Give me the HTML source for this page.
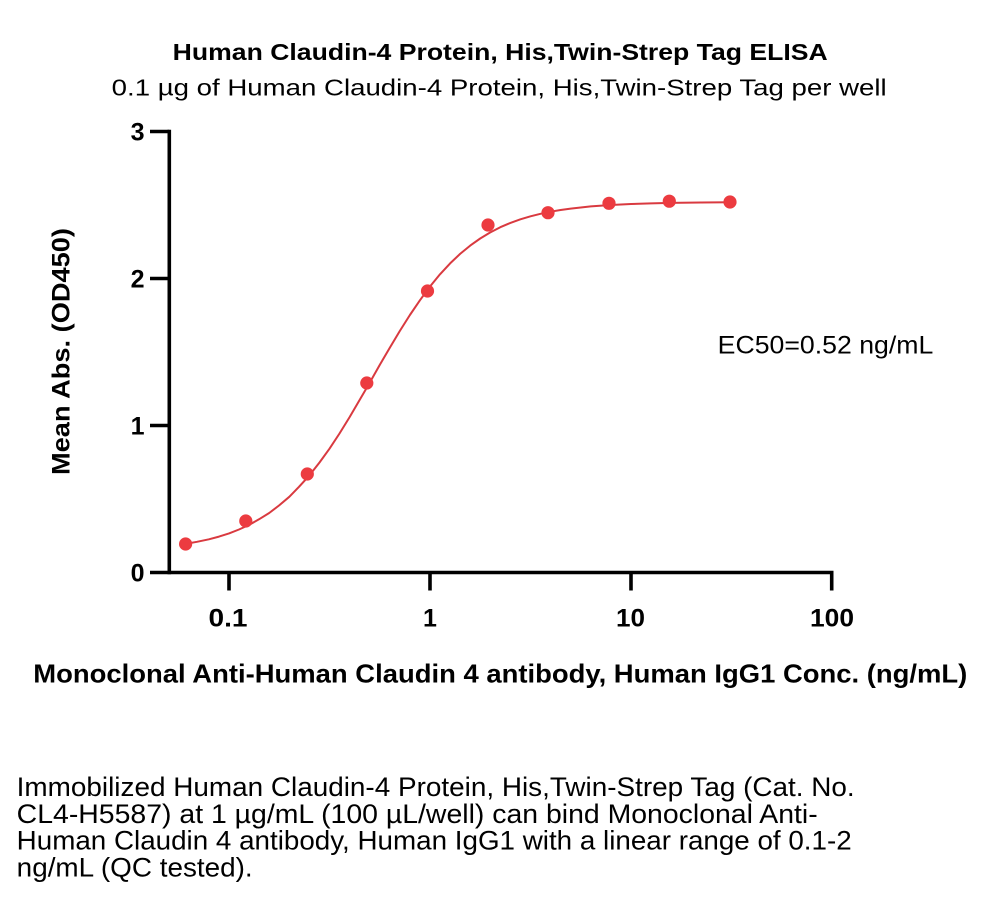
<!DOCTYPE html>
<html>
<head>
<meta charset="utf-8">
<style>
  html, body { margin:0; padding:0; background:#ffffff; }
  body { width:1000px; height:905px; overflow:hidden; }
  svg { display:block; }
  text { font-family: "Liberation Sans", "DejaVu Sans", sans-serif; fill:#000; }
  .b { font-weight:bold; }
</style>
</head>
<body>
<svg width="1000" height="905" viewBox="0 0 1000 905" xmlns="http://www.w3.org/2000/svg">
  <rect x="0" y="0" width="1000" height="905" fill="#ffffff"/>

  <!-- Titles -->
  <text class="b" x="172.7" y="60" font-size="23.5" textLength="655" lengthAdjust="spacingAndGlyphs">Human Claudin-4 Protein, His,Twin-Strep Tag ELISA</text>
  <text x="111.7" y="95.7" font-size="23" textLength="775" lengthAdjust="spacingAndGlyphs">0.1 µg of Human Claudin-4 Protein, His,Twin-Strep Tag per well</text>

  <!-- Axes -->
  <g stroke="#000" stroke-width="3.6" fill="none" stroke-linecap="butt">
    <line x1="169.3" y1="129.7" x2="169.3" y2="574.3"/>
    <line x1="150" y1="572.5" x2="833.5" y2="572.5"/>
    <!-- y ticks -->
    <line x1="150" y1="131.5" x2="169.3" y2="131.5"/>
    <line x1="150" y1="278.5" x2="169.3" y2="278.5"/>
    <line x1="150" y1="425.5" x2="169.3" y2="425.5"/>
    <!-- x ticks -->
    <line x1="229" y1="572.5" x2="229" y2="590.5"/>
    <line x1="430" y1="572.5" x2="430" y2="590.5"/>
    <line x1="631" y1="572.5" x2="631" y2="590.5"/>
    <line x1="831.7" y1="572.5" x2="831.7" y2="590.5"/>
  </g>

  <!-- y tick labels -->
  <g font-size="25" text-anchor="end">
    <text class="b" x="144.5" y="140.5">3</text>
    <text class="b" x="144.5" y="287.5">2</text>
    <text class="b" x="144.5" y="434.5">1</text>
    <text class="b" x="144.5" y="581.5">0</text>
  </g>
  <!-- x tick labels -->
  <g font-size="25">
    <text class="b" x="208.5" y="626.7" textLength="39" lengthAdjust="spacingAndGlyphs">0.1</text>
    <text class="b" x="430" y="626.7" text-anchor="middle">1</text>
    <text class="b" x="616" y="626.7" textLength="29" lengthAdjust="spacingAndGlyphs">10</text>
    <text class="b" x="810" y="626.7" textLength="44" lengthAdjust="spacingAndGlyphs">100</text>
  </g>

  <!-- axis labels -->
  <text class="b" transform="translate(69.5,475) rotate(-90)" font-size="25" textLength="247" lengthAdjust="spacingAndGlyphs">Mean Abs. (OD450)</text>
  <text class="b" x="33.3" y="682.3" font-size="26" textLength="934" lengthAdjust="spacingAndGlyphs">Monoclonal Anti-Human Claudin 4 antibody, Human IgG1 Conc. (ng/mL)</text>

  <!-- EC50 -->
  <text x="717.7" y="353.3" font-size="25" textLength="215.6" lengthAdjust="spacingAndGlyphs">EC50=0.52 ng/mL</text>

  <!-- fitted curve -->
  <polyline fill="none" stroke="#d93a40" stroke-width="2" stroke-linejoin="round"
    points="185.6,543.9 197,541.8 208.9,539.3 219,536.6 229,533.4 239,529.5 249.1,524.9 259,519.3 269.2,513.0 279,505.5 289.3,496.8 299,486.8 309.4,475.4 319.5,462.5 329.5,448.7 339.5,433.5 349.6,417.1 359.6,400.0 369.7,382.7 379.7,365.0 389.8,347.7 399.8,331.0 409.9,315.0 420,300.2 430,286.5 440,274.3 450.1,263.4 460.1,253.9 470.2,245.6 480.2,238.5 490.3,232.4 500.3,227.2 510.4,222.9 520.4,219.3 530.5,216.3 540.5,213.8 550.6,211.7 560.6,210.0 570.7,208.6 590.8,206.4 610.9,205.0 631,204.0 651,203.4 671.2,202.9 701,202.5 730.5,202.3"/>

  <!-- data points -->
  <g fill="#ec3b40">
    <circle cx="185.6" cy="544" r="6.6"/>
    <circle cx="245.8" cy="521" r="6.6"/>
    <circle cx="307.3" cy="474" r="6.6"/>
    <circle cx="366.8" cy="383" r="6.6"/>
    <circle cx="427.5" cy="291" r="6.6"/>
    <circle cx="488" cy="225" r="6.6"/>
    <circle cx="548" cy="212.7" r="6.6"/>
    <circle cx="609" cy="203.3" r="6.6"/>
    <circle cx="669.3" cy="201.2" r="6.6"/>
    <circle cx="730" cy="202" r="6.6"/>
  </g>

  <!-- description paragraph -->
  <g font-size="26.5">
    <text x="16.7" y="796" textLength="838" lengthAdjust="spacingAndGlyphs">Immobilized Human Claudin-4 Protein, His,Twin-Strep Tag (Cat. No.</text>
    <text x="16.7" y="823" textLength="801" lengthAdjust="spacingAndGlyphs">CL4-H5587) at 1 µg/mL (100 µL/well) can bind Monoclonal Anti-</text>
    <text x="16.7" y="849.5" textLength="835" lengthAdjust="spacingAndGlyphs">Human Claudin 4 antibody, Human IgG1 with a linear range of 0.1-2</text>
    <text x="16.7" y="876.5" textLength="236" lengthAdjust="spacingAndGlyphs">ng/mL (QC tested).</text>
  </g>
</svg>
</body>
</html>
